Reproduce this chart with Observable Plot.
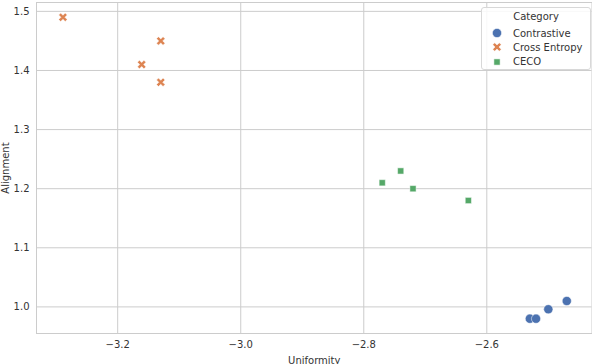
<!DOCTYPE html>
<html><head><meta charset="utf-8">
<script src="https://cdn.jsdelivr.net/npm/d3@7"></script>
<script src="https://cdn.jsdelivr.net/npm/@observablehq/plot@0.6"></script>
<style>
body{margin:0;background:#fff;font-family:"DejaVu Sans",sans-serif;}
#wrap{position:relative;width:592px;height:364px;overflow:hidden;}
#legend{position:absolute;left:481px;top:7px;width:108px;height:61px;border:1px solid #d8d8d8;border-radius:3px;background:rgba(255,255,255,0.85);font-size:10px;color:#333;}
#legend .t{position:absolute;top:3px;left:0;width:100%;text-align:center;}
#legend .row{position:absolute;left:9px;height:14px;display:flex;align-items:center;}
#legend .row span{margin-left:10px;}
</style></head>
<body><div id="wrap"></div>
<script>
const categories = ["Contrastive", "Cross Entropy", "CECO"];
const colors = ["#4c72b0", "#dd8452", "#55a868"];
const contrastiveX = [-2.530, -2.520, -2.500, -2.470];
const contrastiveY = [0.980, 0.980, 0.996, 1.010];
const crossEntropyX = [-3.289, -3.130, -3.161, -3.130];
const crossEntropyY = [1.490, 1.450, 1.410, 1.380];
const cecoX = [-2.770, -2.740, -2.720, -2.630];
const cecoY = [1.210, 1.230, 1.200, 1.180];
const xTicks = [-3.2, -3.0, -2.8, -2.6];
const yTicks = [1.0, 1.1, 1.2, 1.3, 1.4, 1.5];

const toRows = (xs, ys, c) => xs.map((x, i) => ({x, y: ys[i], c}));
const rows = [
  ...toRows(contrastiveX, contrastiveY, categories[0]),
  ...toRows(crossEntropyX, crossEntropyY, categories[1]),
  ...toRows(cecoX, cecoY, categories[2])
];

// filled X marker (rotated plus)
const symbolX = {
  draw(ctx, size) {
    const r = Math.sqrt(size / Math.PI);
    const a = r * 1.05, w = r * 0.32;
    const pts = [[w,a],[w,w],[a,w],[a,-w],[w,-w],[w,-a],[-w,-a],[-w,-w],[-a,-w],[-a,w],[-w,w],[-w,a]];
    const c = Math.SQRT1_2;
    pts.forEach(([px, py], i) => {
      const X = (px - py) * c, Y = (px + py) * c;
      i ? ctx.lineTo(X, Y) : ctx.moveTo(X, Y);
    });
    ctx.closePath();
  }
};

const chart = Plot.plot({
  width: 592, height: 364,
  marginLeft: 36, marginRight: 0.5, marginTop: 2, marginBottom: 31,
  style: {fontFamily: "DejaVu Sans, sans-serif", fontSize: "10px", color: "#333", background: "#fff"},
  x: {domain: [-3.332, -2.429]},
  y: {domain: [0.955, 1.515]},
  marks: [
    Plot.gridX(xTicks, {stroke: "#cccccc", strokeOpacity: 1, strokeWidth: 1}),
    Plot.gridY(yTicks, {stroke: "#cccccc", strokeOpacity: 1, strokeWidth: 1}),
    Plot.frame({stroke: "#cccccc", strokeWidth: 1}),
    Plot.axisX({ticks: xTicks, tickFormat: d3.format(".1f"), tickSize: 0, tickPadding: 7, label: "Uniformity", labelAnchor: "center", labelOffset: 30, labelArrow: "none"}),
    Plot.axisY({ticks: yTicks, tickFormat: d3.format(".1f"), tickSize: 0, tickPadding: 7, label: "Alignment", labelAnchor: "center", labelOffset: 35, labelArrow: "none"}),
    Plot.dot(rows.filter(d => d.c === categories[0]), {x: "x", y: "y", r: 4.6, symbol: "circle", fill: colors[0], stroke: "white", strokeWidth: 0.5}),
    Plot.dot(rows.filter(d => d.c === categories[1]), {x: "x", y: "y", r: 4.4, symbol: symbolX, fill: colors[1], stroke: "white", strokeWidth: 0.5}),
    Plot.dot(rows.filter(d => d.c === categories[2]), {x: "x", y: "y", r: 3.5, symbol: "square", fill: colors[2], stroke: "white", strokeWidth: 0.5})
  ]
});
const wrap = document.getElementById("wrap");
wrap.appendChild(chart);

// legend
const leg = document.createElement("div");
leg.id = "legend";
leg.innerHTML = `<div class="t">Category</div>`;
const syms = [d3.symbolCircle, symbolX, d3.symbolSquare];
const sizes = [Math.PI*4.6*4.6, Math.PI*4.4*4.4, Math.PI*3.5*3.5];
categories.forEach((c, i) => {
  const row = document.createElement("div");
  row.className = "row";
  row.style.top = (18 + i * 14.3) + "px";
  const path = d3.symbol(syms[i], sizes[i])();
  row.innerHTML = `<svg width="12" height="12" viewBox="-6 -6 12 12"><path d="${path}" fill="${colors[i]}" stroke="white" stroke-width="0.5"/></svg><span>${c}</span>`;
  leg.appendChild(row);
});
wrap.appendChild(leg);
</script></body></html>
